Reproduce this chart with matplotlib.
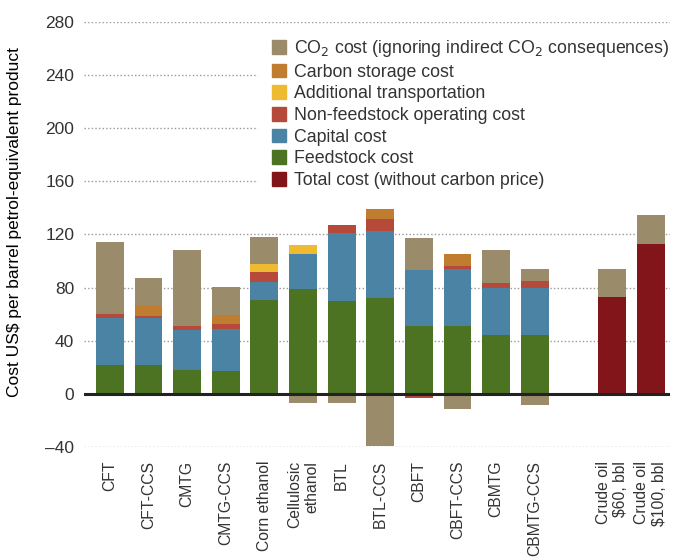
import numpy as np
import matplotlib
matplotlib.use("Agg")
import matplotlib.pyplot as plt
import matplotlib.transforms as mtransforms
from matplotlib.patches import Patch

plt.rcParams['font.family'] = ['Liberation Sans', 'DejaVu Sans']
plt.rcParams['text.color'] = '#333333'

# ========== data ==========
categories = ["CFT", "CFT-CCS", "CMTG", "CMTG-CCS", "Corn ethanol",
              "Cellulosic\nethanol", "BTL", "BTL-CCS", "CBFT", "CBFT-CCS",
              "CBMTG", "CBMTG-CCS", "Crude oil\n\\$60, bbl", "Crude oil\n\\$100, bbl"]
positions = [0, 1, 2, 3, 4, 5, 6, 7, 8, 9, 10, 11, 13, 14]

feedstock = [22, 22, 18, 17, 71, 79, 70, 72, 51, 51, 44.5, 44.5, 0, 0]
capital = [35, 35, 30, 32, 13.5, 26.5, 51.5, 51, 42.5, 43, 35, 35, 0, 0]
nonfeed = [3, 2, 3.3, 3.8, 7.6, 0, 5.3, 8.3, -3, 2.3, 3.7, 5.3, 0, 0]
transport = [0, 0, 0, 0, 6, 6.8, 0, 0, 0, 0, 0, 0, 0, 0]
storage = [0, 6.8, 0, 6.8, 0, 0, 0, 8.2, 0, 9.1, 0, 0, 0, 0]
co2_pos = [54, 21.7, 57.3, 21, 19.7, 0, 0, 0, 24.2, 0, 25, 9, 21, 22]
co2_neg = [0, 0, 0, 0, 0, -7, -7, -39, 0, -11.5, 0, -8.5, 0, 0]
total_cost = [0] * 12 + [73.3, 112.6]

yticks = [-40, 0, 40, 80, 120, 160, 200, 240, 280]

# ========== colours ==========
C_CO2 = '#9a8b6a'
C_STORAGE = '#c07d30'
C_TRANSPORT = '#edba32'
C_NONFEED = '#b54a3a'
C_CAPITAL = '#4b83a5'
C_FEED = '#4b7322'
C_TOTAL = '#82151a'

fig = plt.figure(figsize=(6.84, 5.57), dpi=100)
ax = fig.add_axes([84 / 684, 110 / 557, 586 / 684, 425 / 557])

x = np.array(positions, dtype=float)
width = 0.72
pos_bottom = np.zeros(len(x))
neg_bottom = np.zeros(len(x))

# stack: positives upward, negatives downward from zero
layers = [
    (total_cost, C_TOTAL),
    (feedstock, C_FEED),
    (capital, C_CAPITAL),
    (nonfeed, C_NONFEED),
    (transport, C_TRANSPORT),
    (storage, C_STORAGE),
    (co2_pos, C_CO2),
    (co2_neg, C_CO2),
]
for vals, col in layers:
    vals = np.array(vals, dtype=float)
    bottoms = np.where(vals >= 0, pos_bottom, neg_bottom)
    ax.bar(x, vals, width=width, bottom=bottoms, color=col, linewidth=0, zorder=3)
    pos_bottom = pos_bottom + np.where(vals > 0, vals, 0)
    neg_bottom = neg_bottom + np.where(vals < 0, vals, 0)

# grid + zero line
for yv in yticks:
    if yv != 0:
        ax.axhline(yv, color='#999999', lw=1.0, ls=(0, (1, 1.6)), zorder=1)
ax.axhline(0, color='#222222', lw=2.2, zorder=4)

ax.set_xlim(-0.67, 14.5)
ax.set_ylim(-40, 280)
ax.set_yticks(yticks)
ax.set_yticklabels([str(v).replace('-', '\u2013') for v in yticks], fontsize=12.5)
ax.set_xticks(x)
ax.set_xticklabels(categories, rotation=90, fontsize=11.3, ha='center', va='top',
                   multialignment='right')
shift = mtransforms.ScaledTranslation(-4 / 100, 0, fig.dpi_scale_trans)
for lab in ax.get_xticklabels():
    lab.set_transform(lab.get_transform() + shift)
ax.tick_params(axis='both', length=0, colors='#333333')
ax.tick_params(axis='y', pad=7)
ax.tick_params(axis='x', pad=10)
for s in ax.spines.values():
    s.set_visible(False)

ax.set_ylabel("Cost US\\$ per barrel petrol-equivalent product", fontsize=12.5)
ax.yaxis.set_label_coords(-0.106, 0.53)

handles = [
    Patch(color=C_CO2, label='CO$_2$ cost (ignoring indirect CO$_2$ consequences)'),
    Patch(color=C_STORAGE, label='Carbon storage cost'),
    Patch(color=C_TRANSPORT, label='Additional transportation'),
    Patch(color=C_NONFEED, label='Non-feedstock operating cost'),
    Patch(color=C_CAPITAL, label='Capital cost'),
    Patch(color=C_FEED, label='Feedstock cost'),
    Patch(color=C_TOTAL, label='Total cost (without carbon price)'),
]
leg = ax.legend(handles=handles, loc='upper left', bbox_to_anchor=(258 / 684, 1 - 24 / 557),
                bbox_transform=fig.transFigure, fontsize=12.8, frameon=True,
                facecolor='white', edgecolor='none', framealpha=1, fancybox=False,
                borderpad=0.8, borderaxespad=0, handlelength=0.8, handleheight=0.8,
                handletextpad=0.42, labelspacing=0.26)
leg.set_zorder(5)

fig.savefig("out.png", dpi=100)
